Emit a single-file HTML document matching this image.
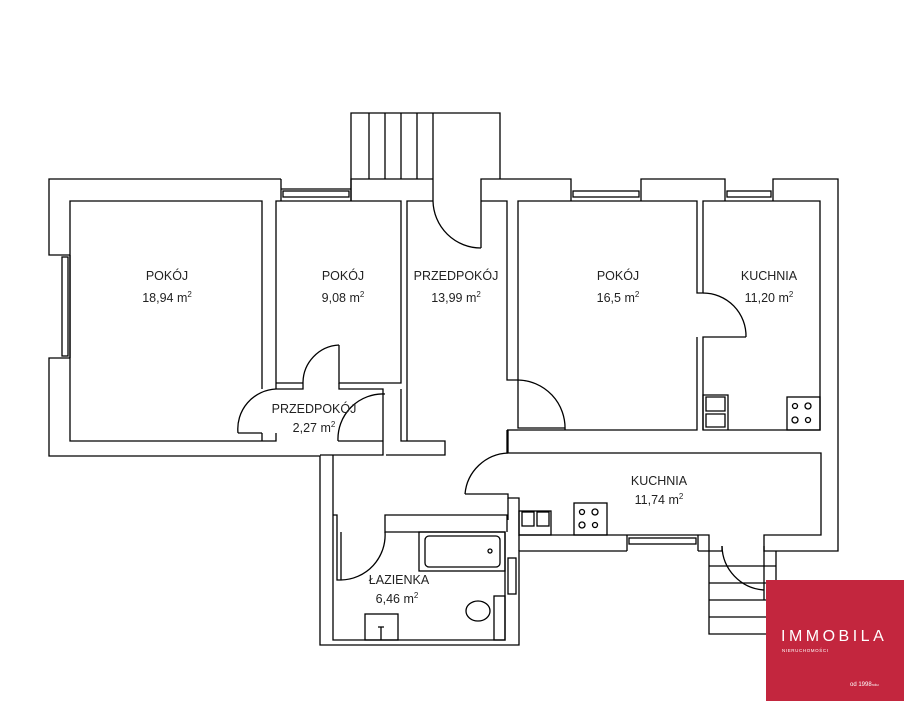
<!DOCTYPE html>
<html><head><meta charset="utf-8"><style>
html,body{margin:0;padding:0;background:#fff;width:921px;height:715px;overflow:hidden}
svg{display:block}
text{font-family:"Liberation Sans",sans-serif;fill:#222}
</style></head><body>
<svg width="921" height="715" viewBox="0 0 921 715" xmlns="http://www.w3.org/2000/svg">
<g fill="none" stroke="#000" stroke-width="1.3">
<path d="M351,179 V113 H500 V179"/>
<path d="M369,113 V179 M385,113 V179 M401,113 V179 M417,113 V179 M433,113 V201"/>
<path d="M281,179 H49 V255 H70 M70,358 H49 V456 H320 V645 H519 V551 H627 M698,551 H722 V546 M764,546 V551 H838 V179 H773 V201 M725,201 V179 H641 V201 M571,201 V179 H481 V201 M351,201 V179 H433"/>
<path d="M281,179 V201 M351,179 V201"/>
<rect x="283" y="191" width="66" height="6"/><path d="M281,189 H351"/>
<rect x="573" y="191" width="66" height="6"/>
<rect x="727" y="191" width="44" height="6"/>
<rect x="62" y="257" width="6" height="99"/><path d="M70,255 V358"/>
<rect x="629" y="538" width="67" height="6"/><path d="M627,535 V551 M698,535 V551"/>
<rect x="508" y="558" width="8" height="36"/>
<path d="M262,389 V201 H70 V441 H276 V433 M262,433 H238 M262,441 V433"/>
<path d="M238,433 A40,40 0 0 1 276,389"/>
<path d="M276,389 V201 H401 V383 H339 V345 M303,383 H276 M303,383 V389 H276"/>
<path d="M303,383 A38,38 0 0 1 339,345"/>
<path d="M339,383 V389 H383 V441 H338 M383,441 V455 H320 M383,389 V394"/>
<path d="M338,441 A45,45 0 0 1 385,394"/>
<path d="M433,201 H407 V441 H401 V389 M407,441 H445 V455 H386"/>
<path d="M481,201 V248 M481,201 H507 V380 H518 V201 H697 V293 H703 V201 H820 V430 H703 V337 H746 M697,337 V430 H518 M507,430 V453 H519 M518,380 V428 H565"/>
<path d="M433,201 A48,48 0 0 0 481,248"/>
<path d="M518,380 A48,48 0 0 1 565,430"/>
<path d="M703,293 A43,43 0 0 1 746,337"/>
<path d="M507,430 H518"/>
<path d="M519,453 H821 V535 H764 V551 M709,551 V535 H519 V498 H508 V494 H465 M508,453 V430"/>
<path d="M465,494 A45,45 0 0 1 508,453"/>
<path d="M508,498 V520 M519,535 V551"/>
<path d="M709,551 V634 H776 M709,566 H776 M709,583 H766 M709,600 H766 M709,617 H766 M776,551 V580 M764,551 V600"/>
<path d="M722,546 A45,45 0 0 0 764,590"/>
<path d="M333,455 V515 H337 V580 H341 M341,532 V580 M333,515 V640 H505 V532 H385 V515 H507 V532 M505,594 V640 M505,558 V532"/>
<path d="M341,580 A45,45 0 0 0 385,532"/>
<path d="M703,430 V395 H728 V430 M706,397 H725 V411 H706 Z M706,414 H725 V427 H706 Z"/>
<rect x="787" y="397" width="33" height="33"/>
<circle cx="795" cy="406" r="2.5"/><circle cx="808" cy="406" r="3"/><circle cx="795" cy="420" r="3"/><circle cx="808" cy="420" r="2.5"/>
<rect x="519" y="511" width="32" height="24"/><rect x="522" y="512" width="12" height="14"/><rect x="537" y="512" width="12" height="14"/>
<rect x="574" y="503" width="33" height="32"/>
<circle cx="582" cy="512" r="2.5"/><circle cx="595" cy="512" r="3"/><circle cx="582" cy="525" r="3"/><circle cx="595" cy="525" r="2.5"/>
<rect x="419" y="532" width="86" height="39"/>
<rect x="425" y="536" width="75" height="31" rx="4"/>
<circle cx="490" cy="551" r="2"/>
<rect x="365" y="614" width="33" height="26"/><path d="M381,627 V640 M378,627 H384"/>
<rect x="494" y="596" width="11" height="44"/>
<ellipse cx="478" cy="611" rx="12" ry="10"/>
</g>
<g font-size="12.5" text-anchor="middle">
<text x="167" y="280">POKÓJ</text><text x="167" y="302">18,94 m<tspan font-size="8" dy="-5">2</tspan></text>
<text x="343" y="280">POKÓJ</text><text x="343" y="302">9,08 m<tspan font-size="8" dy="-5">2</tspan></text>
<text x="456" y="280">PRZEDPOKÓJ</text><text x="456" y="302">13,99 m<tspan font-size="8" dy="-5">2</tspan></text>
<text x="618" y="280">POKÓJ</text><text x="618" y="302">16,5 m<tspan font-size="8" dy="-5">2</tspan></text>
<text x="769" y="280">KUCHNIA</text><text x="769" y="302">11,20 m<tspan font-size="8" dy="-5">2</tspan></text>
<text x="314" y="413">PRZEDPOKÓJ</text><text x="314" y="432">2,27 m<tspan font-size="8" dy="-5">2</tspan></text>
<text x="659" y="485">KUCHNIA</text><text x="659" y="504">11,74 m<tspan font-size="8" dy="-5">2</tspan></text>
<text x="399" y="584">ŁAZIENKA</text><text x="397" y="603">6,46 m<tspan font-size="8" dy="-5">2</tspan></text>
</g>
<rect x="766" y="580" width="138" height="121" fill="#c3263e"/>
<text x="781" y="641" font-size="16" style="fill:#fff;letter-spacing:3.5px">IMMOBILA</text>
<text x="782" y="652" font-size="4.5" style="fill:#fff;letter-spacing:0.6px">NIERUCHOMOŚCI</text>
<text x="850" y="686" font-size="6" style="fill:#fff">od 1998<tspan font-size="3.5">roku</tspan></text>
</svg>
</body></html>
